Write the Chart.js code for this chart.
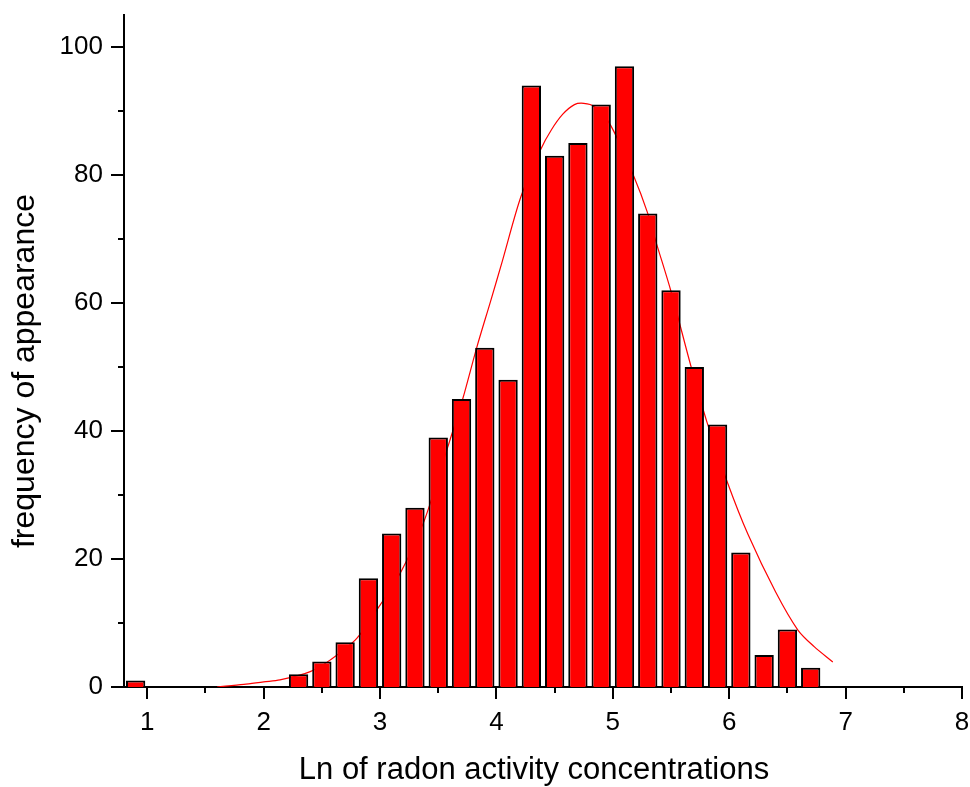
<!DOCTYPE html>
<html>
<head>
<meta charset="utf-8">
<script src="https://cdn.jsdelivr.net/npm/chart.js@4.4.0/dist/chart.umd.min.js"></script>
<style>
  body { margin: 0; background: #fff; }
  #wrap { width: 970px; height: 787px; }
</style>
</head>
<body>
<div id="wrap"><canvas id="chart" width="970" height="787"></canvas></div>
<script>
// histogram bins (bin centre, count)
const binCenters = [0.9, 2.3, 2.5, 2.7, 2.9, 3.1, 3.3, 3.5, 3.7, 3.9, 4.1, 4.3, 4.5, 4.7, 4.9, 5.1, 5.3, 5.5, 5.7, 5.9, 6.1, 6.3, 6.5, 6.7];
const binCounts = [1, 2, 4, 7, 17, 24, 28, 39, 45, 53, 48, 94, 83, 85, 91, 97, 74, 62, 50, 41, 21, 5, 9, 3];

// fitted curve
const curveX = [1.6, 1.83, 2.0, 2.14, 2.4, 2.57, 2.8, 3.0, 3.18, 3.38, 3.58, 3.71, 3.83, 3.95, 4.05, 4.21, 4.38, 4.47, 4.57, 4.67, 4.75, 4.84, 4.98, 5.18, 5.3, 5.37, 5.5, 5.67, 5.81, 5.98, 6.16, 6.4, 6.59, 6.73, 6.89];
const curveY = [0, 0.4, 0.8, 1.1, 2.4, 4.2, 7.6, 12.8, 18, 26, 37.4, 45, 53, 60.3, 66.5, 76.6, 84, 87, 89.5, 91, 91.2, 90.7, 87.8, 79.8, 74, 69.6, 61.8, 50.2, 41.3, 32.2, 23.9, 14.8, 8.9, 6.3, 3.9];

const xTicks = [1, 2, 3, 4, 5, 6, 7, 8];
const xMinor = [1.5, 2.5, 3.5, 4.5, 5.5, 6.5, 7.5];
const yTicks = [0, 20, 40, 60, 80, 100];
const yMinor = [10, 30, 50, 70, 90];

const xTitle = "Ln of radon activity concentrations";
const yTitle = "frequency of appearance";

const FONT = "'Liberation Sans', Arial, sans-serif";

const axisDecor = {
  id: "axisDecor",
  afterDraw(chart) {
    const c = chart.ctx;
    const xs = chart.scales.x, ys = chart.scales.y;
    const a = chart.chartArea;
    c.save();
    c.strokeStyle = "#000";
    c.lineWidth = 2;
    c.beginPath();
    xTicks.forEach(v => { const p = Math.round(xs.getPixelForValue(v)); c.moveTo(p, a.bottom); c.lineTo(p, a.bottom + 12); });
    xMinor.forEach(v => { const p = Math.round(xs.getPixelForValue(v)); c.moveTo(p, a.bottom); c.lineTo(p, a.bottom + 6); });
    yTicks.forEach(v => { const p = Math.round(ys.getPixelForValue(v)); c.moveTo(a.left, p); c.lineTo(a.left - 13, p); });
    yMinor.forEach(v => { const p = Math.round(ys.getPixelForValue(v)); c.moveTo(a.left, p); c.lineTo(a.left - 6, p); });
    c.stroke();

    c.fillStyle = "#000";
    c.textAlign = "center";
    c.textBaseline = "alphabetic";
    c.font = "31px " + FONT;
    c.fillText(xTitle, 534, 779);
    c.font = "32px " + FONT;
    c.translate(34, 371);
    c.rotate(-Math.PI / 2);
    c.fillText(yTitle, 0, 0);
    c.restore();
  }
};

const ctx = document.getElementById("chart").getContext("2d");
new Chart(ctx, {
  data: {
    datasets: [
      {
        type: "bar",
        data: binCenters.map((x, i) => ({ x: x, y: binCounts[i] })),
        backgroundColor: "#ff0000",
        borderColor: "#000",
        borderWidth: 2,
        barPercentage: 0.83,
        categoryPercentage: 1,
        order: 1
      },
      {
        type: "line",
        data: curveX.map((x, i) => ({ x: x, y: curveY[i] })),
        borderColor: "#ff0000",
        borderWidth: 1.2,
        pointRadius: 0,
        tension: 0.3,
        fill: false,
        order: 2
      }
    ]
  },
  options: {
    responsive: false,
    devicePixelRatio: 1,
    animation: false,
    layout: { padding: { top: 15, right: 8, left: 0, bottom: 0 } },
    plugins: { legend: { display: false }, tooltip: { enabled: false } },
    scales: {
      x: {
        type: "linear",
        offset: false,
        min: 0.8,
        max: 8,
        grid: { display: false, drawTicks: false, offset: false },
        border: { display: true, color: "#000", width: 2 },
        ticks: { color: "#000", padding: 20, font: { family: FONT, size: 26 }, maxRotation: 0 },
        afterBuildTicks: s => { s.ticks = xTicks.map(v => ({ value: v })); },
        afterFit: s => { s.height = 100; s.paddingLeft = 0; s.paddingRight = 0; }
      },
      y: {
        min: 0,
        max: 105,
        grid: { display: false, drawTicks: false },
        border: { display: true, color: "#000", width: 2 },
        ticks: { color: "#000", padding: 21, font: { family: FONT, size: 26 } },
        afterBuildTicks: s => { s.ticks = yTicks.map(v => ({ value: v })); },
        afterFit: s => { s.width = 124; s.paddingTop = 0; s.paddingBottom = 0; }
      }
    }
  },
  plugins: [axisDecor]
});
</script>
</body>
</html>
